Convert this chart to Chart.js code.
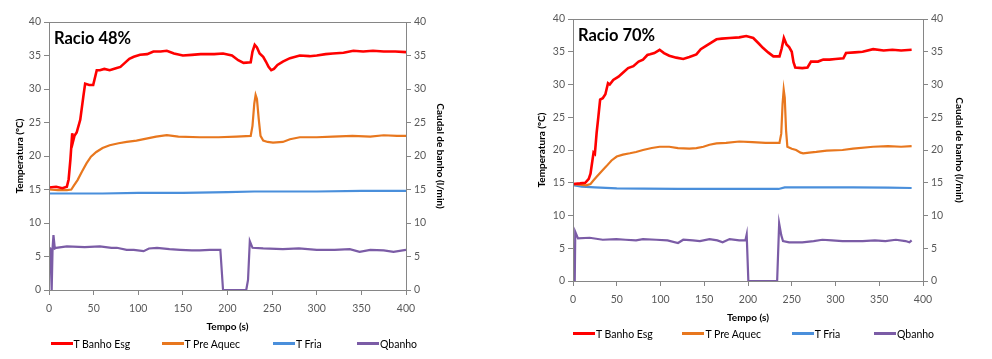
<!DOCTYPE html>
<html>
<head>
<meta charset="utf-8">
<script src="https://cdn.jsdelivr.net/npm/chart.js@4"></script>
<style>
  body { margin: 0; background: #fff; width: 992px; height: 359px; position: relative; overflow: hidden; font-family: Lato, "Open Sans", sans-serif; }
  .box { position: absolute; top: 0; height: 359px; }
  .legend { position: absolute; display: flex; font-size: 10.5px; color: #000; white-space: nowrap; align-items: center; }
  .legend .item { display: flex; align-items: center; }
  .legend i { display: inline-block; width: 22px; height: 3px; margin-right: 1px; }
  #leg48 .item:nth-child(1) { width: 111px; }
  #leg48 .item:nth-child(2) { width: 111.5px; }
  #leg48 .item:nth-child(3) { width: 84px; }
  #leg70 .item:nth-child(1) { width: 109.4px; }
  #leg70 .item:nth-child(2) { width: 109.3px; }
  #leg70 .item:nth-child(3) { width: 82.3px; }
</style>
</head>
<body>
<div class="box" style="left:0;width:470px"><canvas id="c48"></canvas></div>
<div class="box" style="left:526px;width:450px"><canvas id="c70"></canvas></div>
<div class="legend" id="leg48" style="left:50.5px;top:337.5px"></div>
<div class="legend" id="leg70" style="left:573px;top:327.5px"></div>
<script>
// series names and colours
const nomes = ['T Banho Esg', 'T Pre Aquec', 'T Fria', 'Qbanho'];
const cores = ['#ff0000', '#e8771e', '#4a8fdb', '#7b5ca6'];
const xTicks = { min: 0, max: 400, step: 50 };
const yTicks = { min: 0, max: 40, step: 5 };

// Racio 48% : [tempo (s), valor]
const banho48 = [[0,15.3],[8,15.4],[15,15.2],[20,15.4],[22,16.5],[24,19.5],[26,23.4],[27,22.2],[28.5,23],[31,23.5],[35,25.4],[38.5,28.9],[40.5,30.8],[45,30.6],[49.5,30.6],[53.5,32.8],[57,32.8],[62,33.0],[68,32.8],[75,33.1],[80,33.3],[85,33.9],[90,34.5],[95,34.8],[102,35.1],[110,35.2],[117,35.6],[125,35.6],[132,35.7],[140,35.3],[150,35.0],[160,35.1],[170,35.2],[185,35.2],[195,35.3],[205,35.0],[212,34.3],[218,33.9],[226,34.0],[228,35.6],[230.5,36.6],[233,36.2],[236,35.3],[240,34.8],[243,34.1],[246,33.3],[249,32.8],[252,33.0],[256,33.6],[262,34.1],[270,34.6],[281,35.0],[292,34.9],[300,35.0],[310,35.2],[318,35.3],[330,35.4],[341,35.7],[352,35.6],[363,35.7],[375,35.6],[388,35.6],[400,35.5]];
const aquec48 = [[0,15.0],[10,14.9],[20,14.9],[25,15.0],[28,15.6],[32,16.4],[37,17.7],[42,18.9],[47,19.9],[53,20.6],[60,21.2],[68,21.6],[78,21.9],[87,22.1],[98,22.3],[109,22.6],[120,22.9],[132,23.1],[145,22.9],[169,22.8],[190,22.8],[210,22.9],[226,23.0],[228,24.5],[230,27.8],[231.5,29.1],[233,28.5],[235,25.5],[237,23.0],[240,22.3],[245,22.1],[251,22.0],[262,22.1],[270,22.5],[281,22.8],[300,22.8],[318,22.9],[340,23.0],[360,22.9],[375,23.1],[390,23.0],[400,23.0]];
const fria48 = [[0,14.4],[30,14.4],[60,14.4],[100,14.5],[150,14.5],[200,14.6],[230,14.7],[260,14.7],[300,14.7],[350,14.8],[400,14.8]];
const caudal48 = [[0,6.3],[1.5,6.2],[3,0],[4,6.2],[5,8.2],[6.5,6.2],[8,6.3],[20,6.5],[40,6.4],[57,6.5],[70,6.3],[76,6.3],[87,6.0],[95,6.0],[106,5.8],[112,6.2],[121,6.3],[135,6.1],[147,6.0],[160,5.9],[169,5.9],[180,6.0],[192,6.0],[195,0],[221,0],[223,1.5],[225,7.3],[228,6.3],[240,6.2],[262,6.1],[280,6.2],[300,6.0],[320,6.0],[337,6.1],[348,5.7],[360,6.0],[375,5.9],[386,5.7],[400,6.0]];

// Racio 70%
const banho70 = [[0,14.8],[8,14.9],[14,15.0],[18,15.6],[20,16.4],[23.5,19.6],[25,19.4],[27,22.6],[29,25.1],[31,27.7],[34,27.9],[37,28.5],[40,30.2],[42,30.0],[46,30.7],[52,31.2],[57,31.8],[63,32.5],[69,32.8],[75,33.5],[80,33.8],[85,34.5],[88,34.6],[93,34.8],[99,35.3],[104,34.8],[110,34.4],[118,34.1],[126,33.9],[133,34.2],[141,34.6],[146,35.4],[152,35.9],[158,36.4],[164,36.9],[170,37.0],[179,37.1],[190,37.2],[198,37.4],[206,37.1],[212,36.3],[217,35.6],[223,34.9],[229,34.3],[236,34.3],[238.5,35.5],[241,37.1],[244,36.1],[247,35.7],[250,35.0],[252,33.4],[254,32.6],[262,32.5],[268,32.6],[272,33.5],[280,33.5],[286,33.8],[293,33.8],[300,33.9],[309,34.0],[312,34.8],[322,34.9],[331,35.0],[343,35.4],[355,35.2],[365,35.3],[375,35.2],[387,35.3]];
const aquec70 = [[0,14.8],[8,14.7],[15,14.6],[20,14.8],[23,15.3],[27,15.9],[33,16.8],[38,17.5],[44,18.4],[50,19.0],[57,19.3],[65,19.5],[72,19.7],[80,20.0],[90,20.3],[99,20.5],[110,20.5],[120,20.3],[133,20.2],[141,20.3],[149,20.5],[156,20.8],[164,21.0],[175,21.1],[190,21.3],[205,21.2],[220,21.1],[236,21.1],[238,22.5],[239.5,27.0],[240.8,29.2],[242,28.0],[243.5,23.0],[245,20.5],[250,20.2],[255,20.0],[260,19.6],[263,19.5],[270,19.6],[278,19.7],[290,19.9],[308,20.0],[320,20.2],[343,20.5],[360,20.6],[375,20.5],[387,20.6]];
const fria70 = [[0,14.65],[10,14.4],[25,14.3],[50,14.15],[80,14.1],[120,14.05],[160,14.05],[200,14.05],[235,14.05],[242,14.3],[280,14.3],[320,14.3],[360,14.25],[387,14.2]];
const caudal70 = [[0,0],[2,0],[2.6,7.5],[5.7,6.5],[19,6.6],[34,6.3],[49.5,6.4],[60,6.3],[72,6.2],[80,6.4],[95,6.3],[108,6.2],[120,5.8],[126,6.3],[137,6.2],[145,6.1],[156,6.4],[165,6.2],[171,5.9],[179,6.4],[190,6.2],[197,6.2],[198.5,7.1],[200.4,0],[233.3,0],[235.6,8.8],[238,7.0],[240,6.1],[247,5.9],[262,5.9],[275,6.1],[285,6.3],[296,6.2],[308,6.1],[320,6.1],[331,6.1],[345,6.2],[357,6.1],[369,6.3],[380,6.1],[384.5,5.9],[387,6.2]];

const fonte = 'Lato, "Open Sans", sans-serif';

// moldura da área do gráfico + texto "Racio"
const moldura = {
  id: 'moldura',
  afterDraw(chart, args, opts) {
    const a = chart.chartArea;
    const ctx = chart.ctx;
    ctx.save();
    ctx.strokeStyle = '#868686';
    ctx.lineWidth = 1;
    ctx.strokeRect(a.left + 0.5, a.top + 0.5, a.right - a.left, a.bottom - a.top);
    ctx.fillStyle = '#000';
    ctx.font = 'bold 16.5px ' + fonte;
    ctx.textBaseline = 'middle';
    ctx.fillText(opts.texto, a.left + 5, a.top + 16.5);
    ctx.restore();
  }
};

function eixo(pos, titulo, largura) {
  return {
    type: 'linear',
    position: pos,
    min: yTicks.min, max: yTicks.max,
    ticks: { stepSize: yTicks.step, color: '#595959', font: { family: fonte, size: 10.5 }, padding: 3 },
    grid: { drawOnChartArea: false, drawTicks: true, tickLength: 5, color: '#868686' },
    border: { display: true, color: '#868686' },
    title: { display: true, text: titulo, color: '#000', font: { family: fonte, size: 10, weight: 'bold' }, padding: 2 },
    afterFit(scale) { scale.width = largura; }
  };
}

function criarGrafico(id, legId, texto, series, pad) {
  const datasets = series.map((d, i) => ({
    label: nomes[i],
    data: d.map(([x, y]) => ({ x, y })),
    borderColor: cores[i],
    backgroundColor: cores[i],
    borderWidth: i === 0 ? 2.6 : 2.2,
    pointRadius: 0,
    tension: 0,
    yAxisID: i === 3 ? 'y2' : 'y'
  }));
  const chart = new Chart(document.getElementById(id), {
    type: 'line',
    data: { datasets },
    options: {
      responsive: true,
      maintainAspectRatio: false,
      animation: false,
      layout: { padding: { left: pad.left, right: pad.right, top: pad.top, bottom: pad.bottom } },
      plugins: { legend: { display: false }, tooltip: { enabled: false }, moldura: { texto } },
      scales: {
        x: {
          type: 'linear',
          min: xTicks.min, max: xTicks.max,
          ticks: { stepSize: xTicks.step, color: '#595959', font: { family: fonte, size: 10.5 }, padding: 7, maxRotation: 0 },
          grid: { drawOnChartArea: false, drawTicks: true, tickLength: 5, color: '#868686' },
          border: { display: true, color: '#868686' },
          title: { display: true, text: 'Tempo (s)', color: '#000', font: { family: fonte, size: 10, weight: 'bold' }, padding: { top: 8, bottom: 2 } },
          afterFit(scale) { scale.height = 45; }
        },
        y: eixo('left', 'Temperatura (ºC)', pad.yw),
        y2: eixo('right', 'Caudal de banho (l/min)', pad.y2w)
      }
    },
    plugins: [moldura]
  });
  // legenda em HTML
  const leg = document.getElementById(legId);
  chart.data.datasets.forEach(ds => {
    const item = document.createElement('span');
    item.className = 'item';
    const linha = document.createElement('i');
    linha.style.background = ds.borderColor;
    item.appendChild(linha);
    item.appendChild(document.createTextNode(ds.label));
    leg.appendChild(item);
  });
  return chart;
}

criarGrafico('c48', 'leg48', 'Racio 48%', [banho48, aquec48, fria48, caudal48],
  { left: 12, right: 22, top: 22, bottom: 24, yw: 37, y2w: 42 });
criarGrafico('c70', 'leg70', 'Racio 70%', [banho70, aquec70, fria70, caudal70],
  { left: 8, right: 9, top: 19, bottom: 33, yw: 39, y2w: 44 });
</script>
</body>
</html>
